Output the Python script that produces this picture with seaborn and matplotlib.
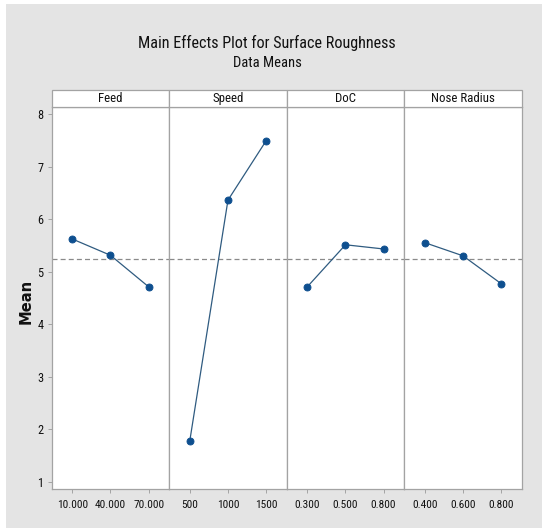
import matplotlib
matplotlib.use("Agg")
import matplotlib.pyplot as plt
from matplotlib.patches import Rectangle
import seaborn as sns
import pandas as pd

# Factor names and their level labels / mean responses
factors = ["Feed", "Speed", "DoC", "Nose Radius"]
feed_levels = ["10.000", "40.000", "70.000"]
feed_means = [5.62, 5.31, 4.71]
speed_levels = ["500", "1000", "1500"]
speed_means = [1.78, 6.36, 7.49]
doc_levels = ["0.300", "0.500", "0.800"]
doc_means = [4.71, 5.51, 5.43]
nose_levels = ["0.400", "0.600", "0.800"]
nose_means = [5.55, 5.30, 4.77]
grand_mean = 5.23
y_ticks = [1, 2, 3, 4, 5, 6, 7, 8]

levels = {"Feed": feed_levels, "Speed": speed_levels,
          "DoC": doc_levels, "Nose Radius": nose_levels}
means = {"Feed": feed_means, "Speed": speed_means,
         "DoC": doc_means, "Nose Radius": nose_means}

rows = []
for f in factors:
    for lv, m in zip(levels[f], means[f]):
        rows.append({"factor": f, "level": lv, "mean": m})
df = pd.DataFrame(rows)

sns.set_theme(style="white")
FONT = ["Roboto Condensed", "Lato", "DejaVu Sans"]
plt.rcParams["font.family"] = FONT

BG = "#e4e4e4"
EDGE = "#a3a3a3"
BLUE = "#0e4f8f"
LINE = "#2f5b80"
TEXT = "#111111"

g = sns.FacetGrid(df, col="factor", col_order=factors, sharex=False,
                  sharey=True, height=4, aspect=0.3, despine=False)
fig = g.figure
fig.set_size_inches(5.42, 5.28)
fig.set_dpi(100)
fig.patch.set_facecolor(BG)
fig.subplots_adjust(left=0.0954, right=0.9626, bottom=0.0739, top=0.798,
                    wspace=0)

strip_h = 17 / (0.798 - 0.0739) / 528

for i, f in enumerate(factors):
    ax = g.axes_dict[f]
    sub = df[df["factor"] == f]
    ax.axhline(grand_mean, color="#8a8a8a", lw=0.9, ls=(0, (4, 2.5)), zorder=1)
    sns.pointplot(data=sub, x="level", y="mean", order=levels[f], ax=ax,
                  color=LINE, markers="o", markersize=5.0, linewidth=0.9,
                  zorder=3)
    for ln in ax.lines:
        if ln.get_marker() == "o":
            ln.set_markerfacecolor(BLUE)
            ln.set_markeredgecolor(BLUE)
    ax.set_facecolor("white")
    ax.set_xlim(-0.54, 2.54)
    ax.set_ylim(0.86, 8.14)
    ax.set_yticks(y_ticks)
    ax.set_title("")
    ax.set_xlabel("")
    ax.set_ylabel("")
    for s in ax.spines.values():
        s.set_color(EDGE)
        s.set_linewidth(0.9)
    ax.tick_params(axis="x", bottom=True, length=3, width=0.7, color=EDGE,
                   labelsize=8.2, labelcolor=TEXT, pad=5)
    if i == 0:
        ax.tick_params(axis="y", left=True, length=3, width=0.7, color=EDGE,
                       labelsize=8.8, labelcolor=TEXT, pad=3)
    else:
        ax.tick_params(axis="y", left=False, labelleft=False)
    # header strip with the factor name
    ax.add_patch(Rectangle((0, 1), 1, strip_h, transform=ax.transAxes,
                           facecolor="white", edgecolor=EDGE, lw=0.9,
                           clip_on=False, zorder=5))
    ax.text(0.5, 1 + strip_h / 2, f, transform=ax.transAxes, ha="center",
            va="center", fontsize=9.3, color=TEXT, zorder=6)

ax0 = g.axes_dict["Feed"]
ax0.set_ylabel("Mean", fontsize=10.6, fontweight="bold", color=TEXT,
               family=["DejaVu Sans"])
ax0.yaxis.set_label_coords(-0.157, 0.49)

fig.text(0.493, 0.918, "Main Effects Plot for Surface Roughness",
         ha="center", va="center", fontsize=11.6, color=TEXT)
fig.text(0.493, 0.880, "Data Means", ha="center", va="center",
         fontsize=10.5, color=TEXT)

# thin outer margin around the panel
fig.patches.append(Rectangle((0, 0), 6 / 542, 1, transform=fig.transFigure,
                             facecolor="white", edgecolor="none"))
fig.patches.append(Rectangle((0, 1 - 4 / 528), 1, 4 / 528,
                             transform=fig.transFigure,
                             facecolor="white", edgecolor="none"))

fig.savefig("out.png", dpi=100, facecolor=fig.get_facecolor())
